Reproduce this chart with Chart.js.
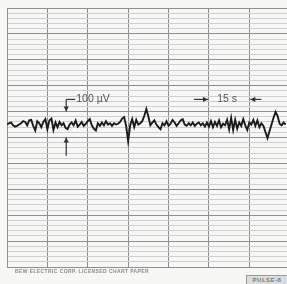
<!DOCTYPE html>
<html>
<head>
<meta charset="utf-8">
<script src="https://cdn.jsdelivr.net/npm/chart.js@4/dist/chart.umd.min.js"></script>
<style>
  html, body { margin:0; padding:0; background:#f7f7f5; }
  #wrap { position:relative; width:287px; height:284px; overflow:hidden; }
  canvas { position:absolute; left:0; top:0; }
  #footer { position:absolute; left:15px; top:268px; font:bold 5px "Liberation Sans", sans-serif; color:#8a8a8a; letter-spacing:0.4px; white-space:nowrap; }
  #stamp { position:absolute; left:246px; top:275px; width:40px; height:8px; border:1px solid #9a9a9a; background:#dcdcdc; font:bold 6px "Liberation Sans", sans-serif; color:#7a7a7a; line-height:8px; text-align:center; letter-spacing:0.5px; }
</style>
</head>
<body>
<div id="wrap">
  <canvas id="c" width="287" height="284"></canvas>
  <div id="footer">BEW ELECTRIC CORP. LICENSED CHART PAPER</div>
  <div id="stamp">PULSE-8</div>
</div>
<script>
// EEG trace, microvolts, sampled every 0.75 s (15 s per major column)
const sampleStep = 0.75;
const traceMicrovolts = [
  0, 5, 8, -3, -8, -5, 0, 5, 13, 10,
  -3, 16, 18, -5, -23, 13, 5, -10, 10, 21,
  -18, 16, 23, -21, 8, -10, 10, -3, 5, -13,
  -18, 0, 8, -3, 16, -8, 0, 10, -5, 3,
  13, 21, -3, -16, -23, 5, -5, 8, -3, 13,
  0, 5, -5, 5, 0, 3, 10, 23, 29, -5,
  -64, -3, 21, -10, 18, 0, 5, 13, 34, 60,
  31, -3, 8, 16, 0, -10, -18, 5, -3, 13,
  -5, 3, 18, 8, -5, 5, 16, 21, 0, -5,
  5, -3, 8, -5, 3, 8, -3, 5, -8, 8,
  -8, 13, -10, 10, -5, 16, -10, 3, -3, 18,
  -18, 26, -21, 18, -16, 8, -5, 21, -3, -21,
  8, 0, 18, -5, 16, -10, 5, -5, -29, -52,
  -26, 0, 26, 49, 34, 3, -3, 8, 0
];
// axis ranges
const timeRange = [0, 104];     // seconds
const timeMajor = 15;           // s per column
const voltRange = [-550, 450];  // microvolts
const voltMajor = 100;          // µV per row
const voltMinor = 20;
// annotation values
const calibTime = 22;
const calibSpan = [-50, 50];
const calibLabel = "100 \u00B5V";
const timeMarkSpan = [75, 90];
const timeMarkLabel = "15 s";
const labelLevel = 97;

const points = traceMicrovolts.map((v, i) => ({ x: i * sampleStep, y: v }));

const MAJOR = '#8f8f8f', MINOR = '#d0d0d0', INK = '#1a1a1a', TXT = '#555';

function arrow(ctx, x1, y1, x2, y2) {
  ctx.beginPath(); ctx.moveTo(x1, y1); ctx.lineTo(x2, y2); ctx.stroke();
  const a = Math.atan2(y2 - y1, x2 - x1), L = 5, W = 2.6;
  ctx.beginPath();
  ctx.moveTo(x2, y2);
  ctx.lineTo(x2 - L*Math.cos(a) + W*Math.sin(a), y2 - L*Math.sin(a) - W*Math.cos(a));
  ctx.lineTo(x2 - L*Math.cos(a) - W*Math.sin(a), y2 - L*Math.sin(a) + W*Math.cos(a));
  ctx.closePath(); ctx.fill();
}

const annot = {
  id: 'annot',
  afterDatasetsDraw(chart) {
    const { ctx, scales: { x, y } } = chart;
    ctx.save();
    ctx.strokeStyle = '#333'; ctx.fillStyle = '#333'; ctx.lineWidth = 1.2;
    const cx = x.getPixelForValue(calibTime);
    const ly = y.getPixelForValue(labelLevel);
    arrow(ctx, cx, ly, cx, y.getPixelForValue(calibSpan[1]));
    arrow(ctx, cx, y.getPixelForValue(-120), cx, y.getPixelForValue(calibSpan[0]));
    ctx.beginPath(); ctx.moveTo(cx, ly); ctx.lineTo(cx + 9, ly); ctx.stroke();
    const t0 = x.getPixelForValue(timeMarkSpan[0]), t1 = x.getPixelForValue(timeMarkSpan[1]);
    arrow(ctx, t0 - 15, ly, t0 - 1, ly);
    arrow(ctx, t1 + 12, ly, t1 + 1, ly);
    ctx.fillStyle = TXT;
    ctx.font = '10.5px "Liberation Sans", sans-serif';
    ctx.textBaseline = 'middle';
    ctx.textAlign = 'left';
    ctx.fillText(calibLabel, cx + 10, ly);
    ctx.textAlign = 'center';
    ctx.fillText(timeMarkLabel, (t0 + t1) / 2 - 2, ly);
    ctx.restore();
  }
};

new Chart(document.getElementById('c'), {
  type: 'line',
  data: { datasets: [{ data: points, borderColor: INK, borderWidth: 1.9, pointRadius: 0, tension: 0, fill: false }] },
  options: {
    responsive: false, animation: false, devicePixelRatio: 1,
    layout: { padding: { left: 7, top: 8, right: 0, bottom: 17 } },
    plugins: { legend: { display: false }, tooltip: { enabled: false } },
    scales: {
      x: {
        type: 'linear', min: timeRange[0], max: timeRange[1],
        ticks: { display: false, stepSize: timeMajor, includeBounds: false },
        grid: { color: MAJOR, lineWidth: 1, drawTicks: false },
        border: { display: true, color: MAJOR }
      },
      y: {
        min: voltRange[0], max: voltRange[1],
        ticks: { display: false, stepSize: voltMinor },
        grid: {
          drawTicks: false,
          color: c => (Math.round(c.tick.value - voltRange[0]) % voltMajor === 0) ? MAJOR : MINOR,
          lineWidth: 1
        },
        border: { display: true, color: MAJOR }
      }
    }
  },
  plugins: [annot]
});
</script>
</body>
</html>
